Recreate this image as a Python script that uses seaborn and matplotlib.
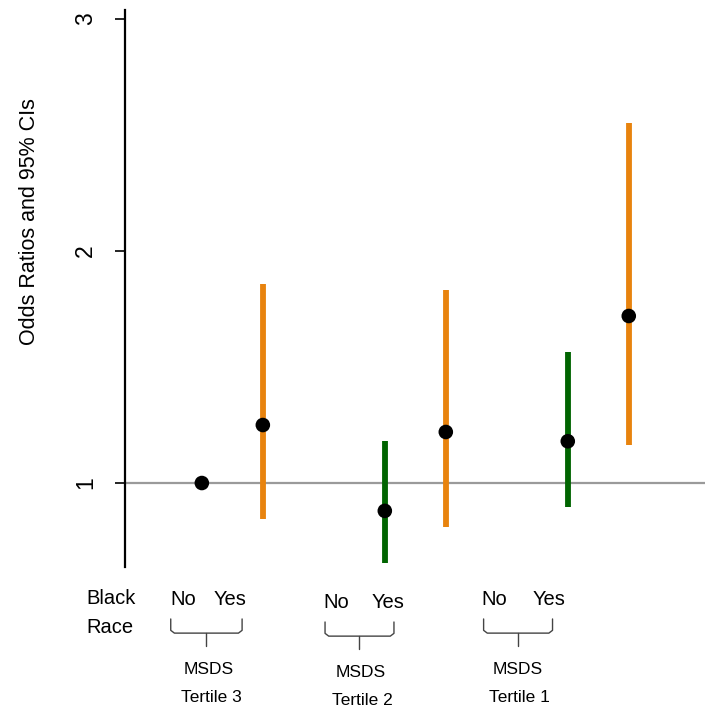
import numpy as np
import pandas as pd
import seaborn as sns
import matplotlib.pyplot as plt

# odds ratios and 95% CIs
tertiles = ["Tertile 3", "Tertile 2", "Tertile 1"]
race = ["No", "Yes"]
odds_ratio = [1.0, 1.25, 0.88, 1.22, 1.18, 1.72]
ci_low = [np.nan, 0.845, 0.655, 0.81, 0.895, 1.165]
ci_high = [np.nan, 1.86, 1.18, 1.83, 1.565, 2.55]
ci_color = [None, "#E8830E", "#006400", "#E8830E", "#006400", "#E8830E"]
y_ticks = [1, 2, 3]

# layout of the hand-made labels under the plot (x in data units)
LAB_NO = [-0.30, 2.21, 4.80]
LAB_YES = [0.47, 3.05, 5.70]
BRACE_L = [-0.51, 2.02, 4.62]
BRACE_R = [0.66, 3.15, 5.75]
BRACE_MID = [0.07, 2.57, 5.18]
GROUP_MID = [0.12, 2.61, 5.18]
GROUP_DY = [0.0, -0.013, 0.0]

df = pd.DataFrame({
    "group": np.repeat(tertiles, 2),
    "race": race * 3,
    "or": odds_ratio,
    "lo": ci_low,
    "hi": ci_high,
    "color": ci_color,
})
df["pos"] = np.repeat(np.arange(3) * 3, 2) + np.tile([0, 1], 3)

sns.set_style("white")
plt.rcParams["font.family"] = ["Liberation Sans", "DejaVu Sans"]
plt.rcParams["text.color"] = "black"
plt.rcParams["ytick.color"] = "black"
plt.rcParams["ytick.labelcolor"] = "black"

W, H = 709, 717
fig = plt.figure(figsize=(W / 100, H / 100), dpi=100)
ax = fig.add_axes([125 / W, 1 - 567 / H, 580 / W, 557 / H])

ax.axhline(1, color="#9a9a9a", lw=1.6, zorder=1)

ci = df.dropna(subset=["lo"])
ax.vlines(ci["pos"], ci["lo"], ci["hi"], colors=ci["color"], lw=4.2, zorder=2)
sns.scatterplot(data=df, x="pos", y="or", color="black", s=110,
                edgecolor="none", ax=ax, zorder=3, legend=False)

ax.set_xlim(-1.26, 8.25)
ax.set_ylim(0.638, 3.039)
ax.set_yticks(y_ticks)
ax.set_yticklabels([str(t) for t in y_ticks], rotation=90, va="center", fontsize=16.5)
ax.tick_params(axis="y", left=True, length=7, width=1.2, colors="black", pad=13)
ax.set_xticks([])
ax.set_xlabel("")
ax.set_ylabel("")
for side in ["top", "right", "bottom"]:
    ax.spines[side].set_visible(False)
ax.spines["left"].set_color("black")
ax.spines["left"].set_linewidth(1.6)

fig.text(30 / W, 1 - 222 / H, "Odds Ratios and 95% CIs", rotation=90,
         ha="center", va="center", fontsize=15.5)

# labels below the axis
txt = dict(ha="center", va="center", clip_on=False, color="black")
ax.text(-1.90, 0.504, "Black", ha="left", va="center", fontsize=14.5, clip_on=False)
ax.text(-1.90, 0.379, "Race", ha="left", va="center", fontsize=14.5, clip_on=False)
for i in range(3):
    dy = GROUP_DY[i]
    ax.text(LAB_NO[i], 0.496 + dy, "No", fontsize=14.5, **txt)
    ax.text(LAB_YES[i], 0.496 + dy, "Yes", fontsize=14.5, **txt)
    # brace
    top, bot, tip = 0.414 + dy, 0.353 + dy, 0.297 + dy
    xl, xr, xm = BRACE_L[i], BRACE_R[i], BRACE_MID[i]
    r = 0.06
    bx = [xl, xl, xl + r, xm, xm, xm, xr - r, xr, xr]
    by = [top, bot + 0.012, bot, bot, bot, bot, bot, bot + 0.012, top]
    ax.plot(bx, by, color="#444444", lw=1.0, clip_on=False)
    ax.plot([xm, xm], [bot, tip], color="#444444", lw=1.0, clip_on=False)
    ax.text(GROUP_MID[i], 0.195 + dy, "MSDS", fontsize=12.5, **txt)
    ax.text(GROUP_MID[i] + 0.03, 0.076 + dy, tertiles[i], fontsize=12.5, **txt)

fig.savefig("out.png", dpi=100)
